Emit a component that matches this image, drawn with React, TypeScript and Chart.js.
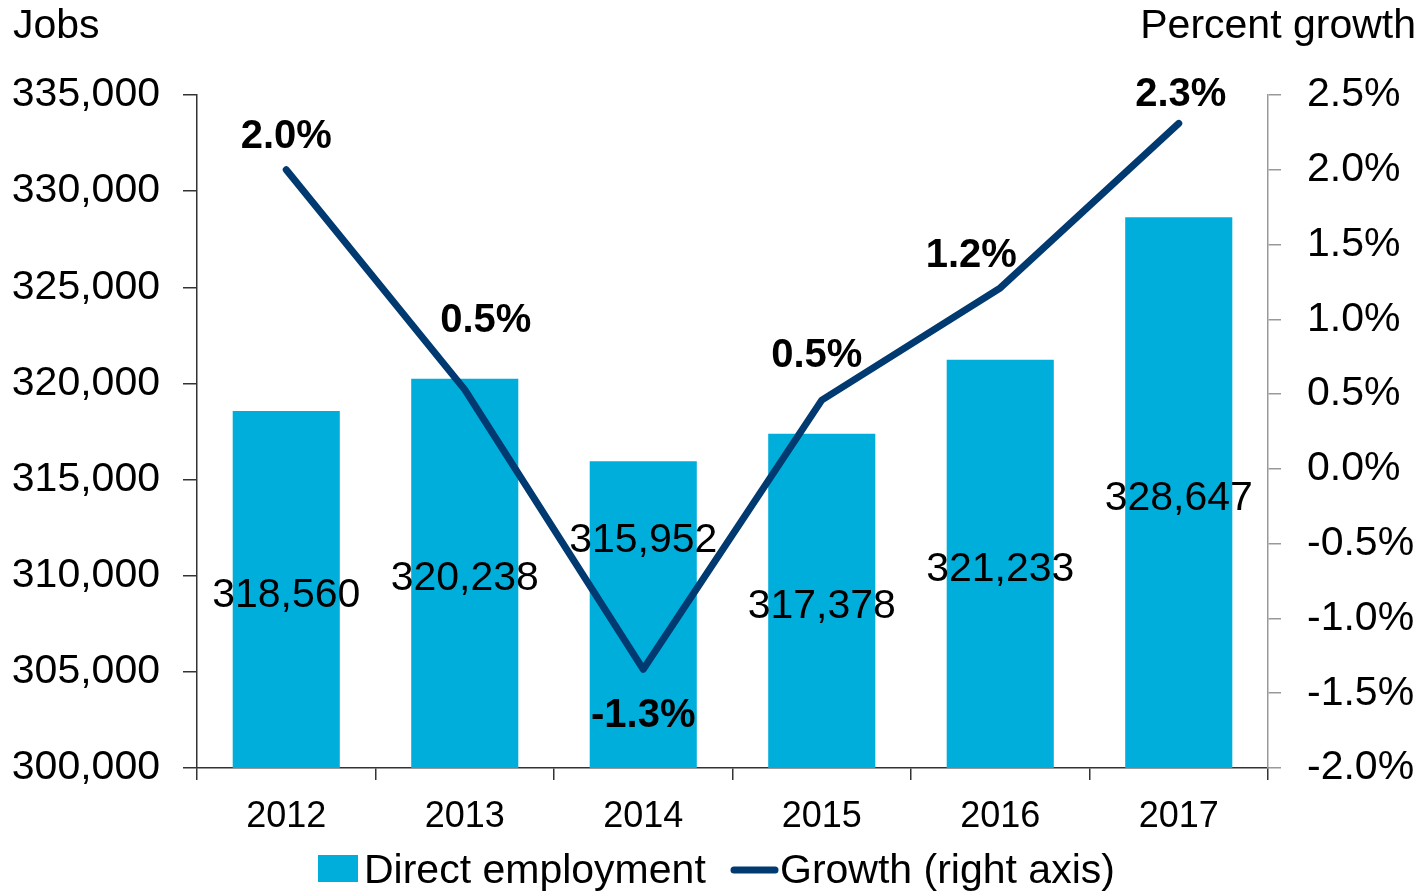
import React, { useEffect, useRef } from "react";
import { Chart, registerables } from "chart.js";

Chart.register(...registerables);

const years = ["2012", "2013", "2014", "2015", "2016", "2017"];
const employment = [318560, 320238, 315952, 317378, 321233, 328647];
const growth = [2.0, 0.53, -1.34, 0.46, 1.21, 2.31];
const leftTitle = "Jobs";
const rightTitle = "Percent growth";
const barLegend = "Direct employment";
const lineLegend = "Growth (right axis)";

const FONT = "'Liberation Sans', Arial, Helvetica, sans-serif";
const BAR_COLOR = "#00AEDB";
const LINE_COLOR = "#003A70";

// label placement tweaks (pixels), Excel-style manual positions
const barLabelShift = [0, 0, -80, 0, 0, 0];
const pctLabelShift: [number, number][] = [
  [0, -36],
  [21, -72],
  [0, 44],
  [-5, -47],
  [-29, -35],
  [2, -31],
];

const fmtInt = (v: number) => v.toLocaleString("en-US");

const overlayPlugin = {
  id: "overlay",
  afterDatasetsDraw(chart: any) {
    const ctx = chart.ctx;
    const ys = chart.scales.y;
    const barMeta = chart.getDatasetMeta(0);
    const lineMeta = chart.getDatasetMeta(1);
    ctx.save();
    ctx.fillStyle = "#000";
    ctx.font = `41px ${FONT}`;
    ctx.textAlign = "center";
    ctx.textBaseline = "alphabetic";
    barMeta.data.forEach((el: any, i: number) => {
      const top = ys.getPixelForValue(employment[i]);
      const base = ys.bottom;
      const cy = (top + base) / 2 + 17 + barLabelShift[i];
      ctx.fillText(fmtInt(employment[i]), el.x, cy);
    });
    ctx.font = `bold 40px ${FONT}`;
    lineMeta.data.forEach((el: any, i: number) => {
      const [dx, dy] = pctLabelShift[i];
      ctx.fillText(growth[i].toFixed(1) + "%", el.x + dx, el.y + dy + 14);
    });
    ctx.restore();
  },
  afterDraw(chart: any) {
    const ctx = chart.ctx;
    ctx.save();
    ctx.fillStyle = "#000";
    ctx.textBaseline = "alphabetic";
    ctx.font = `41px ${FONT}`;
    ctx.textAlign = "left";
    ctx.fillText(leftTitle, 13, 38);
    ctx.textAlign = "right";
    ctx.fillText(rightTitle, 1416, 38);
    // legend
    ctx.textAlign = "left";
    ctx.fillStyle = BAR_COLOR;
    ctx.fillRect(318, 855, 40, 27);
    ctx.fillStyle = "#000";
    ctx.fillText(barLegend, 364, 883);
    ctx.strokeStyle = LINE_COLOR;
    ctx.lineWidth = 7;
    ctx.lineCap = "round";
    ctx.beginPath();
    ctx.moveTo(734, 870);
    ctx.lineTo(775, 870);
    ctx.stroke();
    ctx.fillText(lineLegend, 780, 883);
    ctx.restore();
  },
};

export default function App() {
  const ref = useRef<HTMLCanvasElement | null>(null);
  useEffect(() => {
    if (!ref.current) return;
    const chart = new Chart(ref.current, {
      type: "bar",
      data: {
        labels: years,
        datasets: [
          {
            type: "bar",
            label: barLegend,
            data: employment,
            backgroundColor: BAR_COLOR,
            yAxisID: "y",
            barPercentage: 0.6,
            categoryPercentage: 1.0,
            order: 2,
          },
          {
            type: "line",
            label: lineLegend,
            data: growth,
            borderColor: LINE_COLOR,
            borderWidth: 7,
            borderCapStyle: "round",
            borderJoinStyle: "round",
            pointRadius: 0,
            tension: 0,
            yAxisID: "y1",
            order: 1,
          } as any,
        ],
      },
      options: {
        responsive: false,
        animation: false,
        layout: { padding: { top: 95, left: 0, right: 0, bottom: 0 } },
        plugins: {
          legend: { display: false },
          tooltip: { enabled: false },
          title: { display: false },
        },
        scales: {
          x: {
            offset: true,
            grid: {
              offset: true,
              drawOnChartArea: false,
              tickLength: 12,
              color: "#333",
              lineWidth: 1.5,
            },
            border: { color: "#333", width: 1.5 },
            ticks: {
              color: "#000",
              font: { family: FONT, size: 36 },
              padding: 15,
              maxRotation: 0,
            },
            afterFit: (s: any) => {
              s.height = 125;
            },
          },
          y: {
            position: "left",
            min: 300000,
            max: 335000,
            ticks: {
              stepSize: 5000,
              color: "#000",
              font: { family: FONT, size: 41 },
              padding: 23,
              callback: (v: any) => fmtInt(Number(v)),
            },
            grid: {
              drawOnChartArea: false,
              tickLength: 14,
              color: "#333",
              lineWidth: 1.5,
            },
            border: { color: "#333", width: 1.5 },
            afterFit: (s: any) => {
              s.width = 197;
            },
          },
          y1: {
            position: "right",
            min: -2,
            max: 2.5,
            ticks: {
              stepSize: 0.5,
              color: "#000",
              font: { family: FONT, size: 41 },
              padding: 26,
              callback: (v: any) => Number(v).toFixed(1) + "%",
            },
            grid: {
              drawOnChartArea: false,
              tickLength: 13,
              color: "#999",
              lineWidth: 1.5,
            },
            border: { color: "#999", width: 1.5 },
            afterFit: (s: any) => {
              s.width = 157;
            },
          },
        },
      } as any,
      plugins: [overlayPlugin],
    });
    return () => chart.destroy();
  }, []);
  return (
    <div style={{ position: "absolute", left: 0, top: 0, width: 1425, height: 893, background: "#fff" }}>
      <canvas ref={ref} width={1425} height={893} style={{ width: 1425, height: 893, display: "block" }} />
    </div>
  );
}
